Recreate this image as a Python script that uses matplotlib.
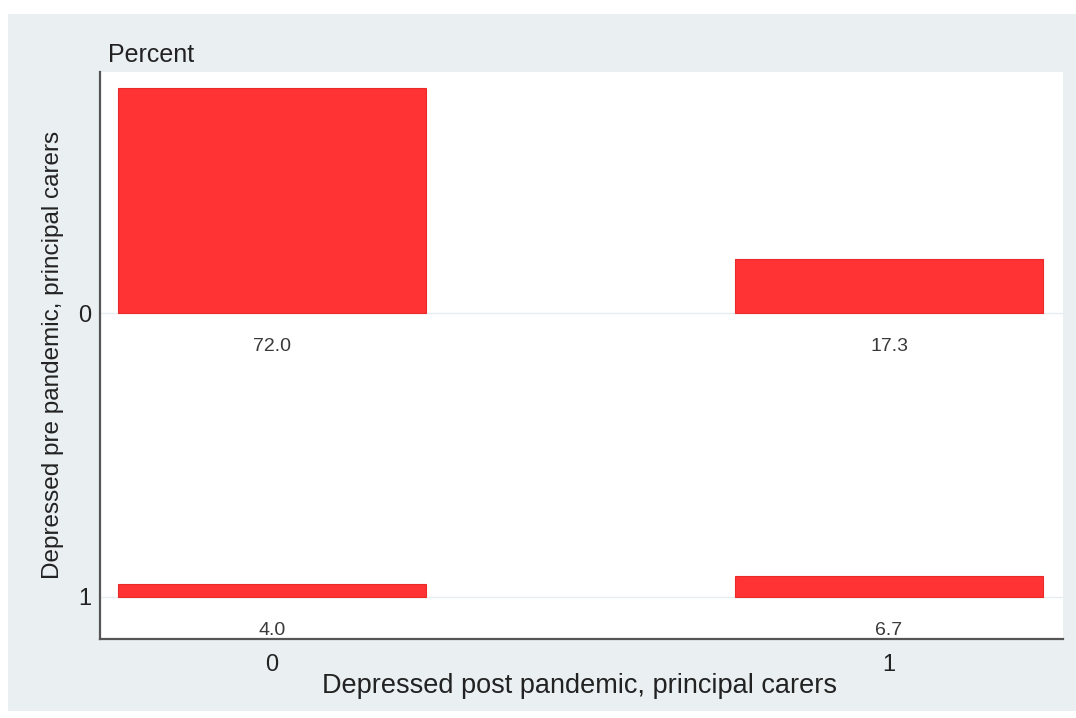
import matplotlib
matplotlib.use("Agg")
import matplotlib.pyplot as plt

plt.rcParams['font.family'] = ['Liberation Sans', 'DejaVu Sans']

# Data
post_categories = ["0", "1"]          # x: Depressed post pandemic
pre_categories = ["0", "1"]           # y rows: Depressed pre pandemic
percent_row0 = [72.0, 17.3]           # pre = 0
percent_row1 = [4.0, 6.7]             # pre = 1
rows = [percent_row0, percent_row1]

W, H = 1076, 718
fig = plt.figure(figsize=(W / 100, H / 100), dpi=100, facecolor="white")

# light panel background
bg = fig.add_axes([8 / W, 1 - 711 / H, (W - 8) / W, (711 - 14) / H], zorder=0)
bg.set_facecolor("#EAF0F2")
bg.set_xticks([])
bg.set_yticks([])
for s in bg.spines.values():
    s.set_visible(False)

ax = fig.add_axes([100 / W, 1 - 639 / H, (1063 - 100) / W, (639 - 72) / H], zorder=1)
ax.set_facecolor("white")

bar_color = "#FF3333"
row_scale = 0.011  # row units per percent
xs = list(range(len(post_categories)))
for r, vals in enumerate(rows):
    ax.axhline(r, color="#E6ECEF", lw=1.0, zorder=1)
    heights = [-v * row_scale for v in vals]
    ax.bar(xs, heights, bottom=r, width=0.5, color=bar_color,
           edgecolor="#E82A2A", linewidth=0.8, zorder=2)
    for x, v in zip(xs, vals):
        ax.annotate(f"{v:.1f}", xy=(x, r), xytext=(0, -24), textcoords="offset points",
                    ha="center", va="center", fontsize=14, color="#3A3A3A")

ax.set_xlim(-0.279, 1.282)
ax.set_ylim(1.148, -0.849)

ax.set_xticks(xs)
ax.set_xticklabels(post_categories, fontsize=17, color="#222222")
ax.set_yticks(range(len(pre_categories)))
ax.set_yticklabels(pre_categories, fontsize=17, color="#222222")
ax.tick_params(axis="x", length=0, pad=11)
ax.tick_params(axis="y", length=0, pad=6)

for s in ["top", "right"]:
    ax.spines[s].set_visible(False)
for s in ["left", "bottom"]:
    ax.spines[s].set_color("#555555")
    ax.spines[s].set_linewidth(1.6)

fig.text(108 / W, 1 - 55 / H, "Percent", ha="left", va="center", fontsize=18, color="#222222")
fig.text(580 / W, 1 - 686 / H, "Depressed post pandemic, principal carers",
         ha="center", va="center", fontsize=19.5, color="#222222")
fig.text(53 / W, 1 - 355 / H, "Depressed pre pandemic, principal carers",
         ha="center", va="center", rotation=90, fontsize=17.5, color="#222222")

fig.savefig("out.png", dpi=100, facecolor="white")
